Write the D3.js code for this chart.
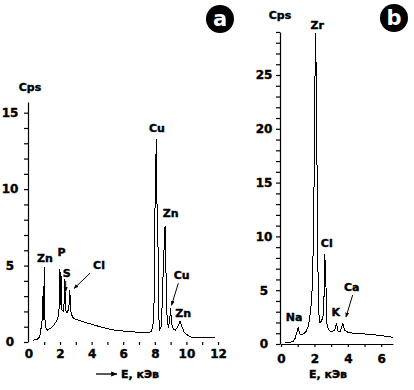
<!DOCTYPE html>
<html>
<head>
<meta charset="utf-8">
<script src="https://cdn.jsdelivr.net/npm/d3@7"></script>
<style>
    body { margin: 0; background: #fff; }
    text { font-family: "DejaVu Sans", sans-serif; font-weight: bold; }
</style>
</head>
<body>
<div id="chart"></div>
<script>
// spectrum a: [E keV, Cps]
const spectrumA = [
    [0.3, 0.12], [0.55, 0.18], [0.72, 0.35], [0.8, 0.9], [0.86, 1.2], [0.88, 3.0], [0.91, 1.4],
    [0.97, 1.6], [1.0, 4.9], [1.04, 1.5], [1.12, 0.85], [1.22, 0.78], [1.4, 0.9], [1.6, 1.1],
    [1.8, 1.4], [1.9, 1.7], [1.95, 2.3], [1.98, 4.8], [2.02, 2.4], [2.06, 4.6], [2.1, 2.1],
    [2.24, 2.0], [2.3, 4.1], [2.34, 2.1], [2.45, 1.9], [2.56, 2.2], [2.62, 3.4], [2.68, 2.0],
    [2.8, 1.6], [3.0, 1.48], [3.4, 1.35], [3.8, 1.22], [4.6, 0.98], [5.3, 0.8], [6.0, 0.72],
    [6.8, 0.65], [7.4, 0.61], [7.75, 0.66], [7.88, 1.0], [7.95, 2.5], [7.97, 4.8], [8.03, 10.3],
    [8.1, 13.3], [8.14, 9.0], [8.2, 6.5], [8.26, 1.5], [8.32, 0.83], [8.42, 1.05], [8.48, 3.0],
    [8.55, 5.2], [8.65, 7.6], [8.7, 5.0], [8.76, 1.9], [8.85, 0.95], [8.93, 1.3], [9.0, 2.2],
    [9.06, 1.2], [9.18, 0.82], [9.3, 0.78], [9.45, 1.0], [9.6, 1.35], [9.72, 1.0], [9.85, 0.67],
    [10.0, 0.5], [10.3, 0.32], [11.0, 0.3], [11.8, 0.3]
];
// spectrum b
const spectrumB = [
    [0.24, 0.12], [0.5, 0.15], [0.74, 0.22], [0.85, 0.55], [0.92, 0.95], [1.0, 1.3], [1.04, 1.6],
    [1.1, 1.0], [1.22, 0.84], [1.35, 0.95], [1.5, 1.15], [1.62, 1.6], [1.72, 2.4], [1.8, 3.6],
    [1.87, 5.2], [1.93, 9.0], [1.98, 15], [2.06, 28.9], [2.1, 26], [2.16, 16], [2.2, 7.8],
    [2.28, 2.4], [2.33, 2.0], [2.42, 2.1], [2.52, 2.6], [2.57, 4], [2.62, 8.4], [2.65, 7.3],
    [2.7, 5.0], [2.75, 1.9], [2.84, 1.35], [3.0, 1.15], [3.2, 1.25], [3.33, 1.9], [3.42, 1.2],
    [3.55, 1.2], [3.7, 1.9], [3.8, 1.3], [4.0, 1.1], [4.3, 1.0], [5.3, 0.9], [6.0, 0.78], [6.7, 0.62]
];

// peak labels [text, E, Cps]
const labelsA = [["Cu", 8.14, 14.0], ["Zn", 9.0, 8.4], ["Zn", 1.05, 5.5], ["P", 2.1, 5.9],
    ["S", 2.42, 4.5], ["Cl", 4.47, 5.0], ["Cu", 9.7, 4.4], ["Zn", 9.8, 1.9]];
const labelsB = [["Zr", 2.17, 29.6], ["Cl", 2.74, 9.4], ["Na", 0.78, 2.5], ["K", 3.28, 3.0], ["Ca", 4.23, 5.3]];
// arrows [E1, Cps1, E2, Cps2]
const arrowsA = [[3.9, 4.5, 2.89, 3.5], [9.49, 3.85, 9.06, 2.4], [2.36, 4.0, 2.36, 3.3]];
const arrowsB = [[4.29, 4.55, 3.89, 2.5]];

const xTicksA = d3.range(0, 13);
const yTicksA = d3.range(0, 16);
const xTicksB = d3.range(0, 7);
const yTicksB = d3.range(0, 30);
const xTitle = "E, кЭв";

function main() {
    const svg = d3.select("#chart").append("svg")
        .attr("width", 414)
        .attr("height", 390);

    svg.append("defs").append("marker")
        .attr("id", "head")
        .attr("viewBox", "0 0 10 10")
        .attr("refX", 9).attr("refY", 5)
        .attr("markerWidth", 5).attr("markerHeight", 5)
        .attr("orient", "auto")
        .append("path")
        .attr("d", "M0,1L10,5L0,9Z")
        .attr("fill", "#000");

    // ---------- panel a ----------
    const xA = d3.scaleLinear().domain([0, 12]).range([28.4, 218]);
    const yA = d3.scaleLinear().domain([0, 15.7]).range([342, 102]);

    const gA = svg.append("g");

    const yAxisA = gA.append("g")
        .attr("transform", "translate(28,0)")
        .call(d3.axisLeft(yA).tickValues(yTicksA).tickSize(4).tickSizeOuter(0)
            .tickFormat(d => d % 5 == 0 ? d : ""));
    yAxisA.selectAll("text").attr("x", -18).attr("text-anchor", "middle");

    const xAxisA = gA.append("g")
        .attr("transform", "translate(0,342)")
        .call(d3.axisBottom(xA).tickValues(xTicksA).tickSize(3)
            .tickFormat(d => d % 2 == 0 ? d : ""));
    xAxisA.select(".domain").remove();
    xAxisA.selectAll(".tick line").filter(d => d == 0).remove();
    xAxisA.selectAll("text").attr("y", 7);

    gA.append("path")
        .datum(spectrumA)
        .attr("d", d3.line().x(d => xA(d[0])).y(d => yA(d[1])))
        .attr("fill", "none")
        .attr("stroke", "#000")
        .attr("stroke-width", 1)
        .attr("shape-rendering", "crispEdges");

    gA.selectAll(".lbl")
        .data(labelsA)
        .enter().append("text")
        .attr("x", d => xA(d[1]))
        .attr("y", d => yA(d[2]))
        .attr("dy", "0.35em")
        .attr("text-anchor", "middle")
        .attr("font-size", "11px")
        .text(d => d[0]);

    gA.selectAll(".arr")
        .data(arrowsA)
        .enter().append("line")
        .attr("x1", d => xA(d[0])).attr("y1", d => yA(d[1]))
        .attr("x2", d => xA(d[2])).attr("y2", d => yA(d[3]))
        .attr("stroke", "#000")
        .attr("stroke-width", 1)
        .attr("marker-end", "url(#head)");

    gA.append("text")
        .attr("x", 30).attr("y", 87)
        .attr("dy", "0.35em")
        .attr("text-anchor", "middle")
        .attr("font-size", "11px")
        .text("Cps");

    gA.append("line")
        .attr("x1", 96).attr("y1", 374).attr("x2", 117).attr("y2", 374)
        .attr("stroke", "#000").attr("stroke-width", 1.3)
        .attr("marker-end", "url(#head)");
    gA.append("text")
        .attr("x", 121).attr("y", 374)
        .attr("dy", "0.35em")
        .attr("font-size", "11px")
        .text(xTitle);

    // ---------- panel b ----------
    const xB = d3.scaleLinear().domain([0, 6.7]).range([281, 392.9]);
    const yB = d3.scaleLinear().domain([0, 29]).range([344, 344 - 29 * 10.76]);

    const gB = svg.append("g");

    const yAxisB = gB.append("g")
        .attr("transform", "translate(280,0)")
        .call(d3.axisLeft(yB).tickValues(yTicksB).tickSize(4).tickSizeOuter(0)
            .tickFormat(d => d % 5 == 0 ? d : ""));
    yAxisB.selectAll("text").attr("x", -16).attr("text-anchor", "middle");

    const xAxisB = gB.append("g")
        .attr("transform", "translate(0,344)")
        .call(d3.axisBottom(xB).tickValues(xTicksB).tickSize(3).tickSizeOuter(0)
            .tickFormat(d => d % 2 == 0 ? d : ""));
    xAxisB.selectAll("text").attr("y", 10);

    gB.append("path")
        .datum(spectrumB)
        .attr("d", d3.line().x(d => xB(d[0])).y(d => yB(d[1])))
        .attr("fill", "none")
        .attr("stroke", "#000")
        .attr("stroke-width", 1)
        .attr("shape-rendering", "crispEdges");

    gB.selectAll(".lbl")
        .data(labelsB)
        .enter().append("text")
        .attr("x", d => xB(d[1]))
        .attr("y", d => yB(d[2]))
        .attr("dy", "0.35em")
        .attr("text-anchor", "middle")
        .attr("font-size", "11px")
        .text(d => d[0]);

    gB.selectAll(".arr")
        .data(arrowsB)
        .enter().append("line")
        .attr("x1", d => xB(d[0])).attr("y1", d => yB(d[1]))
        .attr("x2", d => xB(d[2])).attr("y2", d => yB(d[3]))
        .attr("stroke", "#000")
        .attr("stroke-width", 1)
        .attr("marker-end", "url(#head)");

    gB.append("text")
        .attr("x", 280).attr("y", 15)
        .attr("dy", "0.35em")
        .attr("text-anchor", "middle")
        .attr("font-size", "11px")
        .text("Cps");

    gB.append("text")
        .attr("x", 328).attr("y", 374)
        .attr("dy", "0.35em")
        .attr("text-anchor", "middle")
        .attr("font-size", "11px")
        .text(xTitle);

    // axis styling
    svg.selectAll(".tick text")
        .attr("font-size", "12px")
        .attr("fill", "#000")
        .attr("font-family", "DejaVu Sans");
    svg.selectAll(".domain, .tick line").attr("stroke", "#000").attr("stroke-width", 1.2);

    // heavier lettering, like the original
    svg.selectAll("text").attr("stroke", "#000").attr("stroke-width", 0.4);

    // panel badges
    [["a", 220, 19], ["b", 394, 18]].forEach(b => {
        svg.append("circle").attr("cx", b[1]).attr("cy", b[2]).attr("r", 14).attr("fill", "#000");
        svg.append("text")
            .attr("x", b[1]).attr("y", b[2])
            .attr("dy", "0.35em")
            .attr("text-anchor", "middle")
            .attr("font-size", "21px")
            .attr("fill", "#fff")
            .text(b[0]);
    });
}
main();
</script>
</body>
</html>
